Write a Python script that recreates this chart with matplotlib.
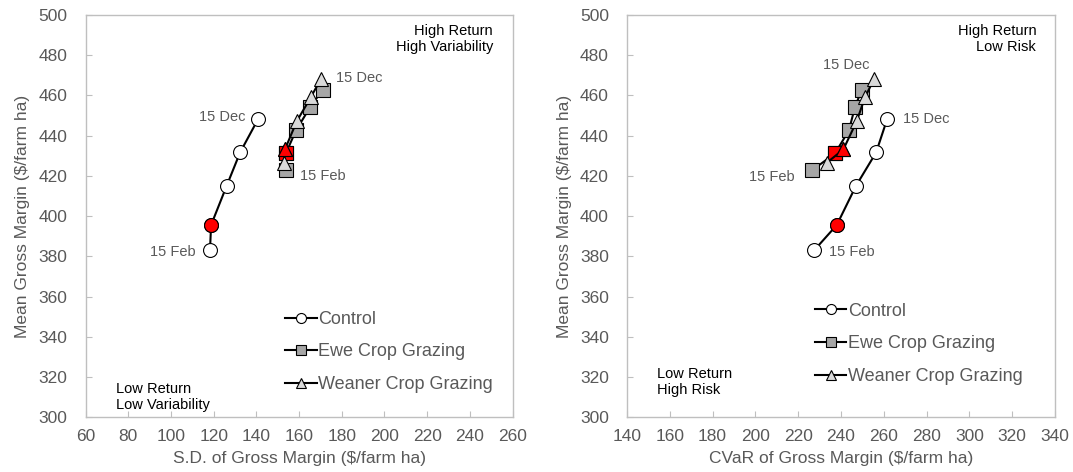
import matplotlib.pyplot as plt

plt.rcParams['font.family'] = ['Liberation Sans', 'DejaVu Sans']

# mean gross margin ($/farm ha), sowing dates 15 Feb -> 15 Dec
mean_control = [383, 395.6, 415.1, 431.7, 448.4]
mean_ewe = [422.9, 431.2, 442.7, 454.2, 462.9]
mean_weaner = [426.5, 433.2, 447.1, 459.1, 468.1]

# S.D. of gross margin
sd_control = [118.3, 118.8, 126.1, 132.4, 140.9]
sd_ewe = [153.8, 153.8, 158.6, 165.2, 171.1]
sd_weaner = [153.0, 153.4, 158.9, 165.5, 170.2]

# CVaR of gross margin
cvar_control = [227.4, 238.0, 247.0, 256.4, 261.6]
cvar_ewe = [226.6, 237.2, 243.7, 246.5, 249.7]
cvar_weaner = [233.3, 241.1, 247.3, 251.2, 255.4]

highlight = 1  # point shown in red
series_names = ['Control', 'Ewe Crop Grazing', 'Weaner Crop Grazing']

grey_txt = '#595959'
frame = '#BFBFBF'

fig = plt.figure(figsize=(10.73, 4.72), dpi=100)
ax1 = fig.add_axes([0.0797, 0.1155, 0.398, 0.8528])
ax2 = fig.add_axes([0.5843, 0.1155, 0.399, 0.8528])


def draw(ax, xs_list):
    styles = [
        dict(marker='o', mfc='white', ms=10),
        dict(marker='s', mfc='#A6A6A6', ms=9.5),
        dict(marker='^', mfc='#D9D9D9', ms=10.5),
    ]
    means = [mean_control, mean_ewe, mean_weaner]
    for xs, ys, st, name in zip(xs_list, means, styles, series_names):
        ax.plot(xs, ys, color='black', lw=1.5, mec='black', mew=0.8,
                label=name, **st)
        ax.plot(xs[highlight], ys[highlight], ls='none', marker=st['marker'],
                ms=st['ms'], mfc='red', mec='black', mew=0.8)


def style(ax, xlim, xlabel):
    ax.set_xlim(*xlim)
    ax.set_ylim(300, 500)
    ax.set_xticks(range(xlim[0], xlim[1] + 1, 20))
    ax.set_yticks(range(300, 501, 20))
    for s in ax.spines.values():
        s.set_color(frame)
        s.set_linewidth(1.0)
    ax.tick_params(direction='in', length=4, color=frame, labelcolor=grey_txt,
                   labelsize=12.5)
    ax.tick_params(axis='x', pad=8)
    ax.tick_params(axis='y', pad=13)
    ax.set_xlabel(xlabel, fontsize=12.5, color=grey_txt, labelpad=5)
    ax.set_ylabel('Mean Gross Margin ($/farm ha)', fontsize=12.5,
                  color=grey_txt, labelpad=6)


def label(ax, x, y, text, dx, dy, ha):
    ax.annotate(text, (x, y), xytext=(dx, dy), textcoords='offset points',
                ha=ha, va='center', fontsize=10.5, color=grey_txt)


# left panel
draw(ax1, [sd_control, sd_ewe, sd_weaner])
style(ax1, (60, 260), 'S.D. of Gross Margin ($/farm ha)')
label(ax1, sd_control[-1], mean_control[-1], '15 Dec', -9, 1, 'right')
label(ax1, sd_control[0], mean_control[0], '15 Feb', -10, -1, 'right')
label(ax1, sd_weaner[-1], mean_weaner[-1], '15 Dec', 11, 1, 'left')
label(ax1, sd_ewe[0], mean_ewe[0], '15 Feb', 10, -4, 'left')
ax1.text(0.954, 0.978, 'High Return\nHigh Variability', transform=ax1.transAxes,
         ha='right', va='top', fontsize=10.5)
ax1.text(0.071, 0.014, 'Low Return\nLow Variability', transform=ax1.transAxes,
         ha='left', va='bottom', fontsize=10.5)
leg1 = ax1.legend(loc='center left', bbox_to_anchor=(0.467, 0.163), frameon=False,
                  fontsize=13, handlelength=1.75, handletextpad=0.1,
                  labelspacing=0.86, borderpad=0, borderaxespad=0,
                  markerscale=0.72)

# right panel
draw(ax2, [cvar_control, cvar_ewe, cvar_weaner])
style(ax2, (140, 340), 'CVaR of Gross Margin ($/farm ha)')
label(ax2, cvar_weaner[-1], mean_weaner[-1], '15 Dec', -20, 10, 'center')
label(ax2, cvar_ewe[0], mean_ewe[0], '15 Feb', -13, -5, 'right')
label(ax2, cvar_control[-1], mean_control[-1], '15 Dec', 11, 0, 'left')
label(ax2, cvar_control[0], mean_control[0], '15 Feb', 11, -1, 'left')
ax2.text(0.956, 0.978, 'High Return\nLow Risk', transform=ax2.transAxes,
         ha='right', va='top', fontsize=10.5)
ax2.text(0.07, 0.05, 'Low Return\nHigh Risk', transform=ax2.transAxes,
         ha='left', va='bottom', fontsize=10.5)
leg2 = ax2.legend(loc='center left', bbox_to_anchor=(0.439, 0.183), frameon=False,
                  fontsize=13, handlelength=1.75, handletextpad=0.1,
                  labelspacing=0.86, borderpad=0, borderaxespad=0,
                  markerscale=0.72)

for leg in (leg1, leg2):
    for t in leg.get_texts():
        t.set_color(grey_txt)

fig.savefig('out.png', dpi=100)
